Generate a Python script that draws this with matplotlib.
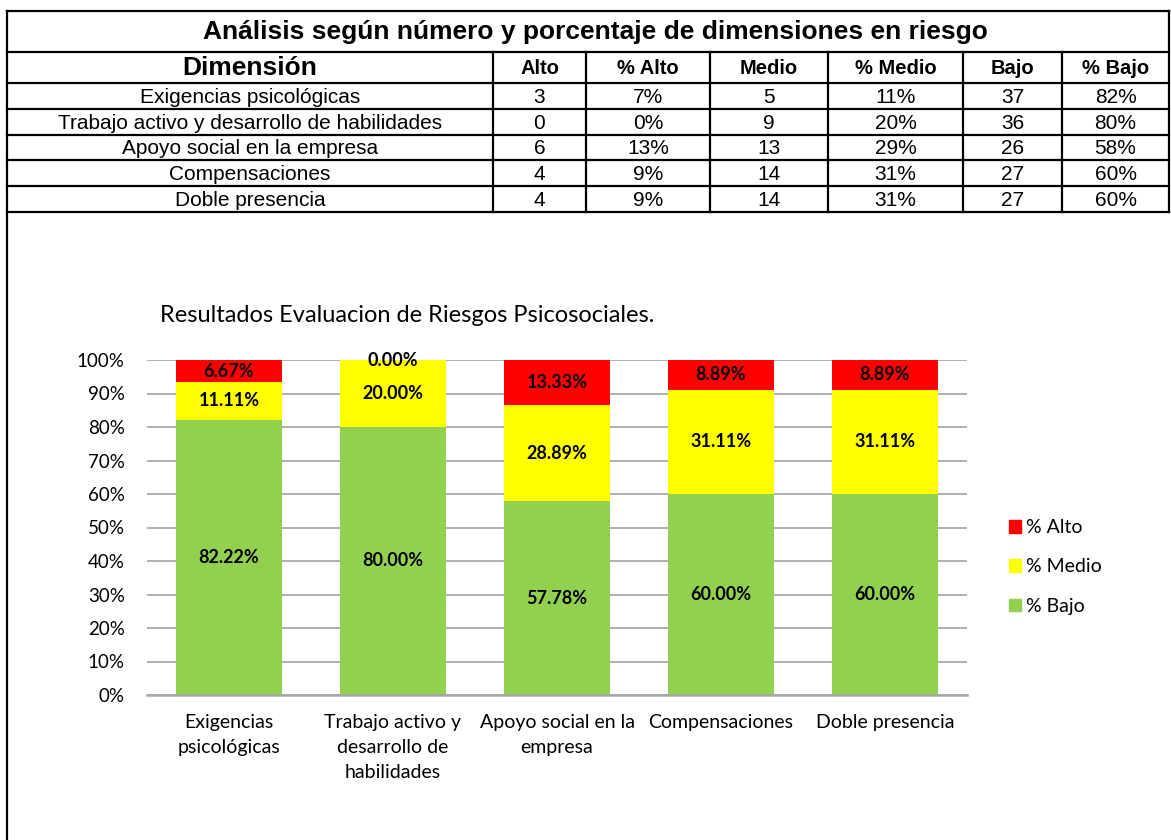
import matplotlib.pyplot as plt
from matplotlib.patches import Patch

# conteos por dimension (total 45 trabajadores)
dimensiones = ["Exigencias psicológicas",
               "Trabajo activo y desarrollo de habilidades",
               "Apoyo social en la empresa",
               "Compensaciones",
               "Doble presencia"]
etiquetas_x = ["Exigencias\npsicológicas",
               "Trabajo activo y\ndesarrollo de\nhabilidades",
               "Apoyo social en la\nempresa",
               "Compensaciones",
               "Doble presencia"]
alto = [3, 0, 6, 4, 4]
medio = [5, 9, 13, 14, 14]
bajo = [37, 36, 26, 27, 27]
columnas = ["Alto", "% Alto", "Medio", "% Medio", "Bajo", "% Bajo"]

total = [a + m + b for a, m, b in zip(alto, medio, bajo)]
p_alto = [a / t for a, t in zip(alto, total)]
p_medio = [m / t for m, t in zip(medio, total)]
p_bajo = [b / t for b, t in zip(bajo, total)]

W, H = 1171, 840
fig = plt.figure(figsize=(W / 100, H / 100), dpi=100)

# ---- tabla (coordenadas en pixeles) ----
tab = fig.add_axes([0, 0, 1, 1])
tab.set_xlim(0, W)
tab.set_ylim(H, 0)
tab.axis("off")

lw = 1.6
xcols = [7, 493, 586, 710, 828, 963, 1062, 1169]
yrows = [11, 52, 83, 109, 135, 160, 186, 212]
tab.plot([7, 7], [11, H], color="black", lw=lw)
tab.plot([1169, 1169], [11, 212], color="black", lw=lw)
for y in yrows:
    tab.plot([7, 1169], [y, y], color="black", lw=lw)
for x in xcols[1:-1]:
    tab.plot([x, x], [52, 212], color="black", lw=lw)

arial = "Liberation Sans"
tab.text(595, 32, "Análisis según número y porcentaje de dimensiones en riesgo",
         ha="center", va="center", fontsize=19, fontweight="bold", family=arial)
tab.text(250, 68, "Dimensión", ha="center", va="center", fontsize=19,
         fontweight="bold", family=arial)
for i, col in enumerate(columnas):
    xc = (xcols[i + 1] + xcols[i + 2]) / 2
    tab.text(xc, 68, col, ha="center", va="center", fontsize=14.5,
             fontweight="bold", family=arial)

for r, nombre in enumerate(dimensiones):
    yc = (yrows[r + 2] + yrows[r + 3]) / 2 + 1.5
    fila = [str(alto[r]), f"{p_alto[r]:.0%}", str(medio[r]), f"{p_medio[r]:.0%}",
            str(bajo[r]), f"{p_bajo[r]:.0%}"]
    tab.text(250, yc, nombre, ha="center", va="center", fontsize=15, family=arial)
    for i, v in enumerate(fila):
        xc = (xcols[i + 1] + xcols[i + 2]) / 2
        tab.text(xc, yc, v, ha="center", va="center", fontsize=15, family=arial)

# ---- grafico de barras apiladas ----
font_graf = "Lato"
ax = fig.add_axes([147 / W, (H - 695) / H, 820 / W, 335 / H])
x = range(len(etiquetas_x))
ancho = 0.645
c_bajo, c_medio, c_alto = "#92D050", "#FFFF00", "#FF0000"

b1 = ax.bar(x, p_bajo, ancho, color=c_bajo, zorder=2)
b2 = ax.bar(x, p_medio, ancho, bottom=p_bajo, color=c_medio, zorder=2)
base_alto = [b + m for b, m in zip(p_bajo, p_medio)]
b3 = ax.bar(x, p_alto, ancho, bottom=base_alto, color=c_alto, zorder=2)

for barras in (b1, b2, b3):
    for rect in barras:
        h = rect.get_height()
        ax.text(rect.get_x() + rect.get_width() / 2, rect.get_y() + h / 2,
                f"{h:.2%}", ha="center", va="center", fontsize=13,
                fontweight="bold", family=font_graf, zorder=3)

ax.set_xlim(-0.5, len(etiquetas_x) - 0.5)
ax.set_ylim(0, 1)
ax.set_yticks([i / 10 for i in range(11)])
ax.set_yticklabels([f"{i * 10}%" for i in range(11)], family=font_graf, fontsize=13.5)
ax.set_xticks(list(x))
ax.set_xticklabels(etiquetas_x, family=font_graf, fontsize=14, linespacing=1.55)
ax.tick_params(length=0, pad=14)
ax.tick_params(axis="y", pad=16)
ax.grid(axis="y", color="#b0b0b0", lw=1.4, zorder=1)
for lado in ("top", "right", "left"):
    ax.spines[lado].set_visible(False)
ax.spines["bottom"].set_color("#a6a6a6")
ax.spines["bottom"].set_linewidth(1.8)

fig.text(160 / W, 1 - 315 / H, "Resultados Evaluacion de Riesgos Psicosociales.",
         ha="left", va="center", fontsize=17, family=font_graf)

handles = [Patch(color=c_alto, label="% Alto"),
           Patch(color=c_medio, label="% Medio"),
           Patch(color=c_bajo, label="% Bajo")]
leg = fig.legend(handles=handles, loc="center left",
                 bbox_to_anchor=(991 / W, 1 - 567 / H), frameon=False,
                 prop={"family": font_graf, "size": 14}, handlelength=0.62,
                 handleheight=0.62, handletextpad=0.3, labelspacing=1.15)

fig.savefig("out.png", dpi=100)
